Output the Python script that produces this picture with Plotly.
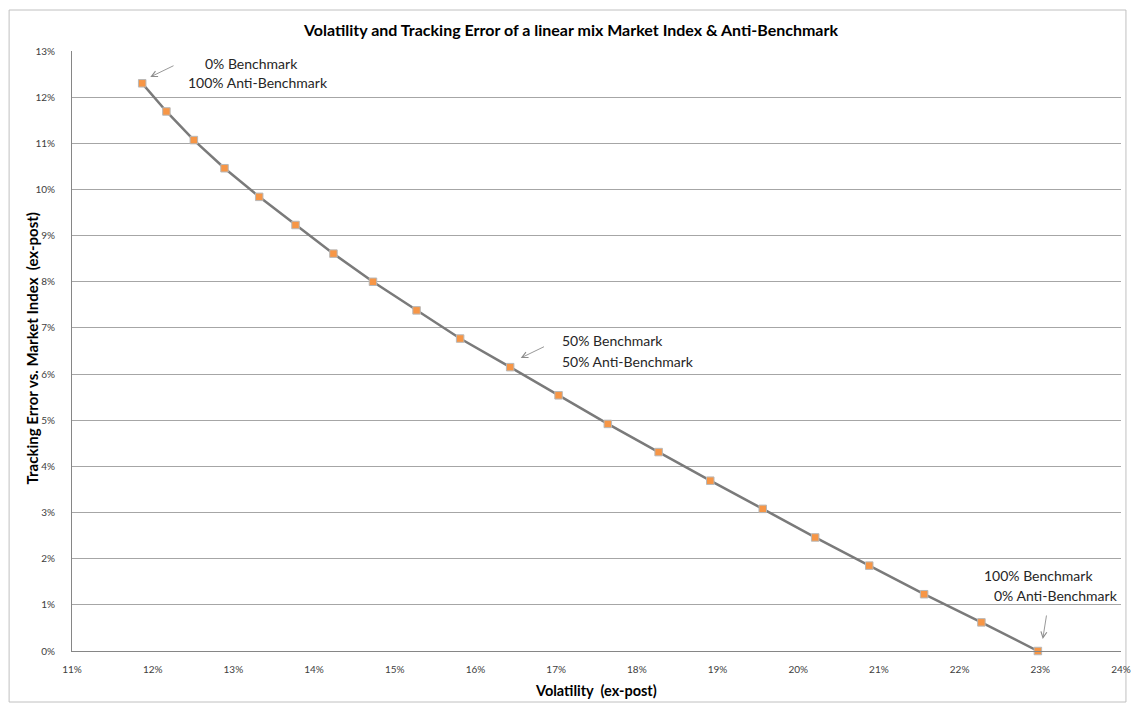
import plotly.graph_objects as go

# Data (in percent)
volatility = [11.87, 12.17, 12.51, 12.89, 13.32, 13.77, 14.24, 14.73, 15.27, 15.81,
              16.43, 17.03, 17.64, 18.27, 18.91, 19.56, 20.21, 20.88, 21.56, 22.27, 22.97]
tracking_error = [12.30, 11.69, 11.07, 10.46, 9.84, 9.23, 8.61, 8.00, 7.38, 6.77,
                  6.15, 5.54, 4.92, 4.31, 3.69, 3.08, 2.46, 1.85, 1.23, 0.62, 0.00]
x_ticks = list(range(11, 25))
y_ticks = list(range(0, 14))

title_text = "Volatility and Tracking Error of a linear mix Market Index & Anti-Benchmark"
x_title = "Volatility&nbsp;&nbsp;(ex-post)"
y_title = "Tracking Error vs. Market Index&nbsp;&nbsp;(ex-post)"

FONT = "Lato, 'Open Sans', sans-serif"

# The page body has an 8px margin; positions below are page pixels.
OFF = 8
PL, PR, PT, PB = 72, 1131, 51, 651  # plot area in page pixels

fig = go.Figure()
fig.add_trace(go.Scatter(
    x=volatility, y=tracking_error, mode="lines+markers",
    line=dict(color="#7a7a7a", width=2.5),
    marker=dict(symbol="square", size=7.5, color="#F79646",
                line=dict(color="#b8b8b8", width=1)),
    cliponaxis=False, showlegend=False, hoverinfo="x+y",
))

def px_x(p):
    return 11 + (p - PL) / ((PR - PL) / 13)

def px_y(p):
    return (PB - p) / ((PB - PT) / 13)

def paper_x(p):
    return (p - PL) / (PR - PL)

def paper_y(p):
    return (PB - p) / (PB - PT)

annotations = []
text_font = dict(family=FONT, size=14, color="#262626")
labels = [
    ("0% Benchmark", 204, 63),
    ("100% Anti-Benchmark", 187, 82),
    ("50% Benchmark", 565, 340),
    ("50% Anti-Benchmark", 565, 361),
    ("100% Benchmark", 991, 575),
    ("0% Anti-Benchmark", 1001, 595),
]
for t, lx, ly in labels:
    annotations.append(dict(x=px_x(lx), y=px_y(ly), xref="x", yref="y", text=t,
                            showarrow=False, xanchor="left", yanchor="middle",
                            font=text_font))

arrows = [((176, 65), (151, 77)), ((550, 346), (525, 358)), ((1056, 614), (1052, 639))]
for (tx, ty), (hx, hy) in arrows:
    annotations.append(dict(x=px_x(hx), y=px_y(hy), ax=px_x(tx), ay=px_y(ty),
                            xref="x", yref="y", axref="x", ayref="y", text="",
                            showarrow=True, arrowhead=5, arrowsize=1.3, arrowwidth=0.9,
                            arrowcolor="#8c8c8c"))

annotations.append(dict(x=paper_x(601), y=paper_y(690), xref="paper", yref="paper",
                        text="<b>" + x_title + "</b>", showarrow=False,
                        xanchor="center", yanchor="middle",
                        font=dict(family=FONT, size=14.5, color="#000000")))
annotations.append(dict(x=paper_x(32), y=paper_y(348), xref="paper", yref="paper",
                        text="<b>" + y_title + "</b>", showarrow=False, textangle=-90,
                        xanchor="center", yanchor="middle",
                        font=dict(family=FONT, size=15, color="#000000")))

W, H = 1142 - OFF, 705 - OFF
fig.update_layout(
    width=W, height=H,
    margin=dict(l=PL - OFF, r=W - (PR - OFF), t=PT - OFF, b=H - (PB - OFF)),
    paper_bgcolor="white", plot_bgcolor="white",
    title=dict(text="<b>" + title_text + "</b>", x=(571 - OFF) / W, xref="container",
               y=1 - (30 - OFF) / H, yref="container", xanchor="center", yanchor="middle",
               font=dict(family=FONT, size=16, color="#000000")),
    xaxis=dict(range=[11, 24], tickvals=x_ticks, ticktext=[f"{v}%" for v in x_ticks],
               showgrid=False, zeroline=False, showline=True, linecolor="#868686",
               linewidth=1, ticks="", ticklabelstandoff=9,
               tickfont=dict(family=FONT, size=10, color="#404040")),
    yaxis=dict(range=[0, 13], tickvals=y_ticks, ticktext=[f"{v}%" for v in y_ticks],
               showgrid=True, gridcolor="#a6a6a6", gridwidth=1, zeroline=False,
               showline=True, linecolor="#868686", linewidth=1, ticks="",
               ticklabelstandoff=14,
               tickfont=dict(family=FONT, size=10, color="#404040")),
    annotations=annotations,
    shapes=[dict(type="rect", xref="paper", yref="paper",
                 x0=paper_x(8.5), x1=paper_x(1136),
                 y0=paper_y(702), y1=paper_y(10),
                 line=dict(color="#c0c0c0", width=1), fillcolor="rgba(0,0,0,0)",
                 layer="below")],
)

fig.write_html("out.html")
